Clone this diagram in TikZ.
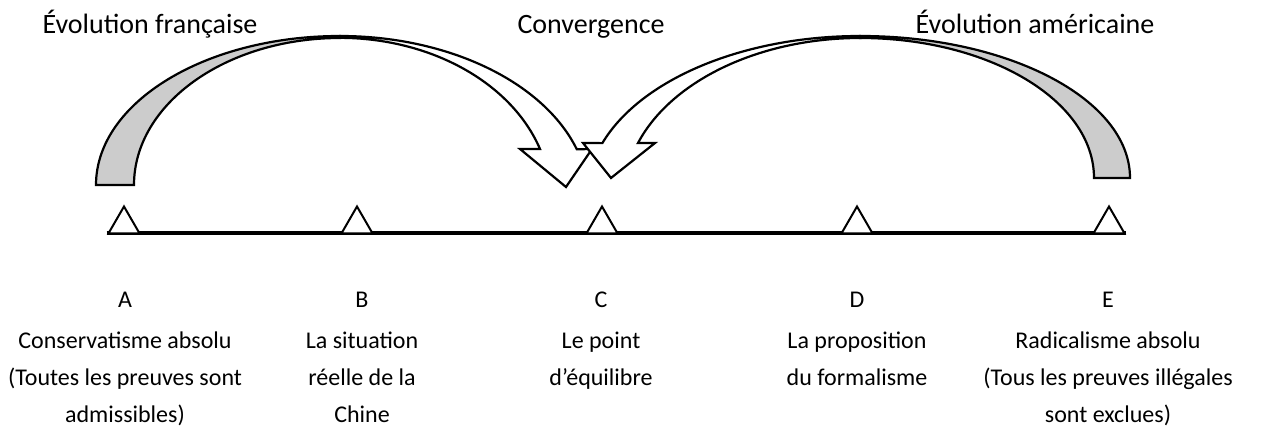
\documentclass[tikz,border=0pt]{standalone}
\usepackage{fontspec}
\setmainfont{Carlito}
\usepackage{tikz}
\usetikzlibrary{shapes.geometric,backgrounds}
\definecolor{backgray}{RGB}{204,204,204}
\tikzset{
  backband/.style={draw=black, fill=backgray, line width=2.2pt, line join=miter},
  frontband/.style={draw=black, fill=white, line width=2.2pt, line join=miter},
  marker/.style={
    draw=black, fill=white, regular polygon, regular polygon sides=3,
    minimum size=36pt, inner sep=0pt, line width=2pt
  },
  axis/.style={line width=3.4pt},
  toplabel/.style={font=\fontsize{28}{34}\selectfont, anchor=base, inner sep=0pt},
  letter/.style={font=\fontsize{24}{37}\selectfont, inner sep=0pt},
  stance/.style={font=\fontsize{24}{37}\selectfont, align=center, anchor=north, inner sep=0pt}
}

\begin{document}
\begin{tikzpicture}[x=1pt,y=1pt]
  \useasboundingbox (0,0) rectangle (1274,436);

  % Titles above the arrows
  \node[toplabel] (fr) at (150,402) {Évolution française};
  \node[toplabel] (cv) at (591,402) {Convergence};
  \node[toplabel] (us) at (1035,402) {Évolution américaine};

  % French evolution: from A towards the centre
  \draw[backband] (96,251) arc[start angle=180,end angle=90,x radius=244,y radius=149]
    -- (340,398) arc[start angle=90,end angle=180,x radius=206,y radius=147] -- cycle;
  \draw[frontband] (340,400) arc[start angle=90,end angle=18,x radius=249,y radius=164]
    -- (592,287) -- (566,249) -- (520,287) -- (540,287)
    arc[start angle=18.3,end angle=90,x radius=211,y radius=162] -- cycle;

  % American evolution: from E towards the centre
  \draw[backband] (1130,258) arc[start angle=0,end angle=90,x radius=270,y radius=142]
    -- (860,398) arc[start angle=90,end angle=0,x radius=234,y radius=140] -- cycle;
  \draw[frontband] (860,400) arc[start angle=90,end angle=160.7,x radius=273,y radius=160]
    -- (583,293) -- (611,258) -- (655,293) -- (638,293)
    arc[start angle=160.4,end angle=90,x radius=236,y radius=158] -- cycle;

  % Scale with its five positions
  \node[marker] (A) at (124,211.5) {};
  \node[marker] (B) at (357,211.5) {};
  \node[marker] (C) at (602,211.5) {};
  \node[marker] (D) at (857,211.5) {};
  \node[marker] (E) at (1109,211.5) {};
  \begin{scope}[on background layer]
    \draw[axis] ([yshift=1.5pt]A.corner 2) -- ([yshift=1.5pt]E.corner 3);
  \end{scope}

  % Letters and descriptions below the scale
  \node[letter] (lA) at (125,136) {A};
  \node[letter] (lB) at (362,136) {B};
  \node[letter] (lC) at (601,136) {C};
  \node[letter] (lD) at (857,136) {D};
  \node[letter] (lE) at (1108,136) {E};
  \node[stance] (sA) at (125,104) {Conservatisme absolu\\(Toutes les preuves sont\\admissibles)};
  \node[stance] (sB) at (362,104) {La situation\\réelle de la\\Chine};
  \node[stance] (sC) at (601,104) {Le point\\d’équilibre};
  \node[stance] (sD) at (857,104) {La proposition\\du formalisme};
  \node[stance] (sE) at (1108,104) {Radicalisme absolu\\(Tous les preuves illégales\\sont exclues)};
\end{tikzpicture}
\end{document}
